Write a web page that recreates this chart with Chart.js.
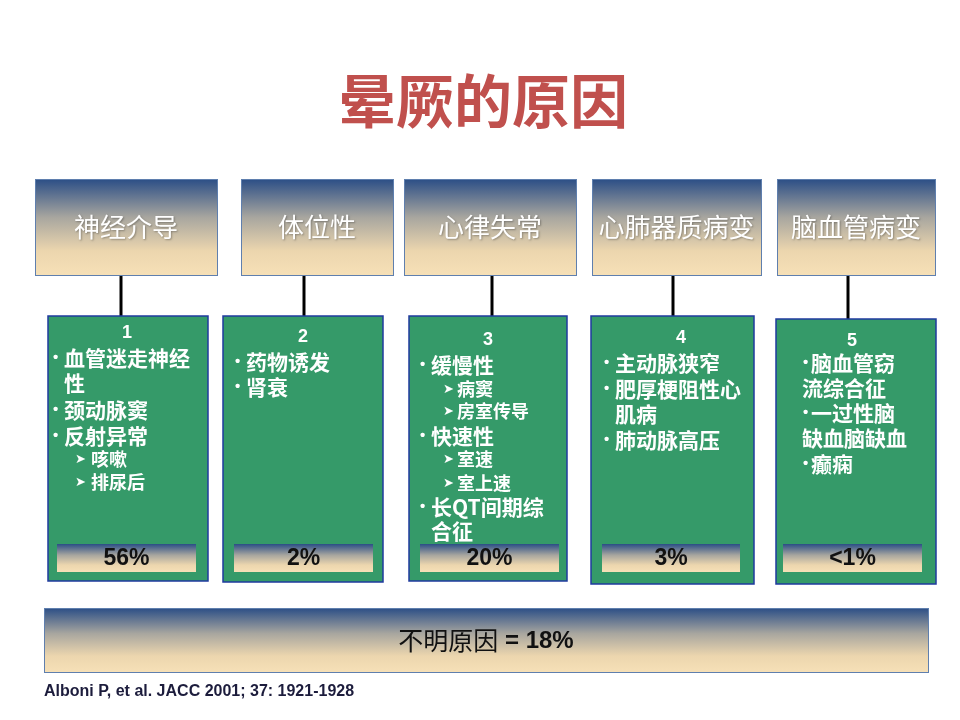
<!DOCTYPE html>
<html>
<head>
<meta charset="utf-8">
<script src="https://cdn.jsdelivr.net/npm/chart.js@4.4.0/dist/chart.umd.min.js"></script>
<style>
  html, body { margin: 0; padding: 0; background: #ffffff; }
  #wrap { width: 960px; height: 720px; }
</style>
</head>
<body>
<div id="wrap"><canvas id="diagram" width="960" height="720"></canvas></div>
<script>
// Textos e valores
const titleText = '晕厥的原因';
const categories = ['神经介导', '体位性', '心律失常', '心肺器质病变', '脑血管病变'];
const groupNumbers = ['1', '2', '3', '4', '5'];
const percentLabels = ['56%', '2%', '20%', '3%', '<1%'];
// b = item com marcador, c = continuação, s = subitem (seta), B/C = marcador colado
const causeItems = [
    [['b', '血管迷走神经'], ['c', '性'], ['b', '颈动脉窦'], ['b', '反射异常'], ['s', '咳嗽'], ['s', '排尿后']],
    [['b', '药物诱发'], ['b', '肾衰']],
    [['b', '缓慢性'], ['s', '病窦'], ['s', '房室传导'], ['b', '快速性'], ['s', '室速'], ['s', '室上速'], ['b', '长QT间期综'], ['c', '合征']],
    [['b', '主动脉狭窄'], ['b', '肥厚梗阻性心'], ['c', '肌病'], ['b', '肺动脉高压']],
    [['B', '脑血管窃'], ['C', '流综合征'], ['B', '一过性脑'], ['C', '缺血脑缺血'], ['B', '癫痫']]
];
const unknownLabel = ['不明原因', ' = 18%'];
const citation = 'Alboni P, et al. JACC 2001; 37: 1921-1928';

// Posições (unidades das escalas, 960 x 720)
const layout = {
    titleY: 101,
    headerTop: 179,
    headerBottom: 275,
    headerX: [[35, 217], [241, 393], [404, 576], [592, 761], [777, 935]],
    headerTextY: 227,
    connectorX: [121, 304, 492, 673, 848],
    panels: [[48, 208, 316, 581], [223, 383, 316, 582], [409, 567, 316, 581], [591, 754, 316, 584], [776, 936, 319, 584]],
    numberPos: [[127, 333], [303, 337], [488, 340], [681, 338], [852, 341]],
    // [bullet, texto, seta, subtexto]
    itemX: [[55, 64, 78, 91], [237, 246, 0, 0], [422, 431, 446, 457], [606, 615, 0, 0], [805, 811, 0, 802]],
    itemY: [
        [358, 383, 410, 436, 459, 482],
        [362, 387],
        [365, 389, 411, 436, 459, 483, 507, 531],
        [363, 389, 414, 440],
        [363, 388, 413, 438, 464]
    ],
    pctX: [[57, 196], [234, 373], [420, 559], [602, 740], [783, 922]],
    pctTop: 544,
    pctBottom: 572,
    unknownBox: [44, 928, 608, 672],
    citationPos: [44, 692]
};

const cjkFont = '"Noto Sans CJK SC", "Noto Sans", sans-serif';
const latinFont = '"Liberation Sans Narrow", "Liberation Sans", sans-serif';

function gradientFill(ctx, top, bottom) {
    const g = ctx.createLinearGradient(0, top, 0, bottom);
    g.addColorStop(0, '#2b4e86');
    g.addColorStop(0.4, '#a8a69f');
    g.addColorStop(0.75, '#ecd6ae');
    g.addColorStop(1, '#f6e0b7');
    return g;
}

const diagramPlugin = {
    id: 'diagram',
    afterDraw(chart) {
        const ctx = chart.ctx;
        const sx = chart.scales.x;
        const sy = chart.scales.y;
        const px = (v) => sx.getPixelForValue(v);
        const py = (v) => sy.getPixelForValue(v);

        ctx.save();
        ctx.textBaseline = 'middle';

        // Título
        ctx.fillStyle = '#c0504d';
        ctx.font = 'bold 58px ' + cjkFont;
        ctx.textAlign = 'center';
        ctx.fillText(titleText, px(483), py(layout.titleY));

        // Linhas de ligação
        ctx.strokeStyle = '#000000';
        ctx.lineWidth = 3;
        layout.connectorX.forEach((x, i) => {
            ctx.beginPath();
            ctx.moveTo(px(x), py(layout.headerBottom));
            ctx.lineTo(px(x), py(layout.panels[i][2]));
            ctx.stroke();
        });

        // Cabeçalhos
        categories.forEach((name, i) => {
            const [x0, x1] = layout.headerX[i];
            const top = py(layout.headerTop), bottom = py(layout.headerBottom);
            ctx.fillStyle = gradientFill(ctx, top, bottom);
            ctx.fillRect(px(x0), top, px(x1) - px(x0), bottom - top);
            ctx.strokeStyle = '#5f7fae';
            ctx.lineWidth = 1;
            ctx.strokeRect(px(x0) + 0.5, top + 0.5, px(x1) - px(x0), bottom - top);

            ctx.save();
            ctx.shadowColor = 'rgba(0,0,0,0.3)';
            ctx.shadowOffsetX = 1;
            ctx.shadowOffsetY = 1;
            ctx.shadowBlur = 2;
            ctx.fillStyle = '#ffffff';
            ctx.font = '26px ' + cjkFont;
            ctx.textAlign = 'center';
            ctx.fillText(name, px((x0 + x1) / 2), py(layout.headerTextY));
            ctx.restore();
        });

        // Painéis verdes
        causeItems.forEach((items, i) => {
            const [x0, x1, y0, y1] = layout.panels[i];
            ctx.fillStyle = '#359a69';
            ctx.fillRect(px(x0), py(y0), px(x1) - px(x0), py(y1) - py(y0));
            ctx.strokeStyle = '#1f3a9e';
            ctx.lineWidth = 1.5;
            ctx.strokeRect(px(x0), py(y0), px(x1) - px(x0), py(y1) - py(y0));

            ctx.fillStyle = '#ffffff';
            ctx.textAlign = 'center';
            ctx.font = 'bold 18px "Liberation Sans", sans-serif';
            const [nx, ny] = layout.numberPos[i];
            ctx.fillText(groupNumbers[i], px(nx), py(ny));

            const [bx, tx, ax, sx2] = layout.itemX[i];
            ctx.textAlign = 'left';
            items.forEach(([kind, text], j) => {
                const y = py(layout.itemY[i][j]);
                if (kind === 'b' || kind === 'B') {
                    ctx.font = 'bold 15px "Liberation Sans", sans-serif';
                    ctx.fillText('•', px(bx) - 2, y);
                    ctx.font = 'bold 21px ' + cjkFont;
                    ctx.fillText(text, px(tx), y);
                } else if (kind === 'c') {
                    ctx.font = 'bold 21px ' + cjkFont;
                    ctx.fillText(text, px(tx), y);
                } else if (kind === 'C') {
                    ctx.font = 'bold 21px ' + cjkFont;
                    ctx.fillText(text, px(sx2), y);
                } else {
                    ctx.font = '13px "DejaVu Sans", sans-serif';
                    ctx.fillText('➤', px(ax) - 3, y + 1);
                    ctx.font = 'bold 18px ' + cjkFont;
                    ctx.fillText(text, px(sx2), y);
                }
            });

            // Faixa de porcentagem
            const [p0, p1] = layout.pctX[i];
            const top = py(layout.pctTop), bottom = py(layout.pctBottom);
            ctx.fillStyle = gradientFill(ctx, top, bottom);
            ctx.fillRect(px(p0), top, px(p1) - px(p0), bottom - top);
            ctx.fillStyle = '#111111';
            ctx.textAlign = 'center';
            ctx.font = 'bold 23px ' + latinFont;
            ctx.fillText(percentLabels[i], px((p0 + p1) / 2), (top + bottom) / 2 + 1);
        });

        // Caixa "不明原因"
        const [u0, u1, v0, v1] = layout.unknownBox;
        ctx.fillStyle = gradientFill(ctx, py(v0), py(v1));
        ctx.fillRect(px(u0), py(v0), px(u1) - px(u0), py(v1) - py(v0));
        ctx.strokeStyle = '#5f7fae';
        ctx.lineWidth = 1;
        ctx.strokeRect(px(u0) + 0.5, py(v0) + 0.5, px(u1) - px(u0), py(v1) - py(v0));

        ctx.fillStyle = '#111111';
        ctx.font = '25px ' + cjkFont;
        const w1 = ctx.measureText(unknownLabel[0]).width;
        ctx.font = 'bold 24px ' + latinFont;
        const w2 = ctx.measureText(unknownLabel[1]).width;
        const start = px((u0 + u1) / 2) - (w1 + w2) / 2;
        const cy = (py(v0) + py(v1)) / 2;
        ctx.textAlign = 'left';
        ctx.font = '25px ' + cjkFont;
        ctx.fillText(unknownLabel[0], start, cy);
        ctx.font = 'bold 24px ' + latinFont;
        ctx.fillText(unknownLabel[1], start + w1, cy + 1);

        // Referência
        ctx.fillStyle = '#1c1c3c';
        ctx.font = 'bold 16px ' + latinFont;
        ctx.fillText(citation, px(layout.citationPos[0]), py(layout.citationPos[1]));

        ctx.restore();
    }
};

new Chart(document.getElementById('diagram'), {
    type: 'scatter',
    data: { datasets: [{ data: [], pointRadius: 0 }] },
    options: {
        responsive: false,
        animation: false,
        devicePixelRatio: 1,
        layout: { padding: 0 },
        plugins: {
            legend: { display: false },
            tooltip: { enabled: false }
        },
        scales: {
            x: { type: 'linear', min: 0, max: 960, display: false },
            y: { type: 'linear', min: 0, max: 720, reverse: true, display: false }
        }
    },
    plugins: [diagramPlugin]
});
</script>
</body>
</html>
